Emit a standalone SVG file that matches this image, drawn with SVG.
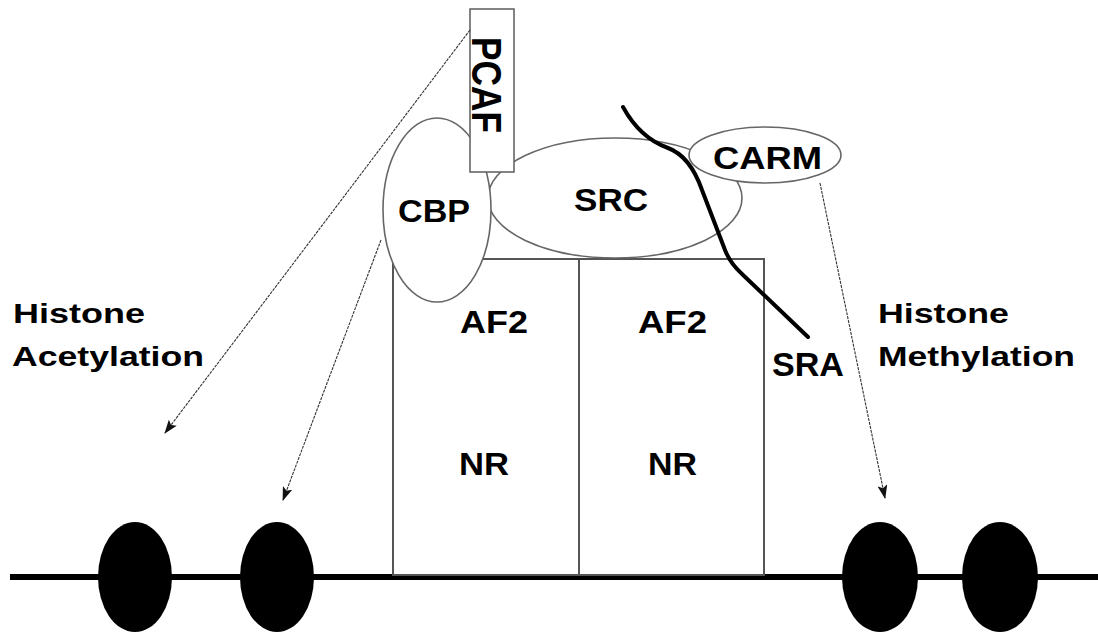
<svg xmlns="http://www.w3.org/2000/svg" width="1098" height="632" viewBox="0 0 1098 632">
<style>
.t{font-family:"Liberation Sans",Arial,sans-serif;font-weight:bold;fill:#000}
.sh{fill:#fff;stroke:#666;stroke-width:1.6}
.box{fill:#fff;stroke:#555;stroke-width:2}
.arr{fill:none;stroke:#333;stroke-width:1.1;stroke-dasharray:3 1}
.nuc{fill:#000}
</style>
<defs>
<marker id="ah" markerWidth="14" markerHeight="10" refX="13" refY="5" orient="auto" markerUnits="userSpaceOnUse">
<path d="M0,0 L14,5 L0,10 L3,5 Z" fill="#111"/>
</marker>
</defs>
<rect width="1098" height="632" fill="#fff"/>
<g id="dna"><line x1="10" y1="577" x2="1098" y2="577" stroke="#000" stroke-width="6"/></g>
<g id="nucleosomes">
<ellipse class="nuc" cx="135" cy="577" rx="37" ry="55"/>
<ellipse class="nuc" cx="277" cy="577" rx="37" ry="55"/>
<ellipse class="nuc" cx="880" cy="577" rx="38" ry="55"/>
<ellipse class="nuc" cx="1000" cy="577" rx="38" ry="55"/>
</g>
<g id="nr1"><rect class="box" x="393" y="259" width="186" height="316"/>
<text class="t" x="460" y="333" font-size="31" textLength="68" lengthAdjust="spacingAndGlyphs">AF2</text>
<text class="t" x="459" y="475" font-size="31" textLength="50" lengthAdjust="spacingAndGlyphs">NR</text></g>
<g id="nr2"><rect class="box" x="579" y="259" width="185" height="316"/>
<text class="t" x="638" y="333" font-size="31" textLength="69" lengthAdjust="spacingAndGlyphs">AF2</text>
<text class="t" x="648" y="475" font-size="31" textLength="49" lengthAdjust="spacingAndGlyphs">NR</text></g>
<g id="src"><ellipse class="sh" cx="615" cy="198" rx="127" ry="60"/>
<text class="t" x="574" y="211" font-size="32" textLength="74" lengthAdjust="spacingAndGlyphs">SRC</text></g>
<g id="cbp"><ellipse class="sh" cx="437" cy="210" rx="54" ry="92"/>
<text class="t" x="398" y="222" font-size="32" textLength="72" lengthAdjust="spacingAndGlyphs">CBP</text></g>
<g id="pcaf"><rect class="sh" x="470" y="9" width="44" height="163"/>
<text class="t" transform="translate(472,37) rotate(90) scale(1,1.3)" x="0" y="0" font-size="32" textLength="96" lengthAdjust="spacingAndGlyphs">PCAF</text></g>
<g id="carm"><ellipse class="sh" cx="765" cy="155" rx="76" ry="28"/>
<text class="t" x="713" y="169" font-size="32" textLength="109" lengthAdjust="spacingAndGlyphs">CARM</text></g>
<g id="sra"><path d="M623,107 Q640,138 668,148 Q690,156 702,190 L725,250 Q730,263 742,274 L808,337" fill="none" stroke="#000" stroke-width="4" stroke-linecap="round"/>
<text class="t" x="772" y="376" font-size="33" textLength="72" lengthAdjust="spacingAndGlyphs">SRA</text></g>
<g id="labels">
<text class="t" x="13" y="323" font-size="27" textLength="132" lengthAdjust="spacingAndGlyphs">Histone</text>
<text class="t" x="12" y="366" font-size="27" textLength="192" lengthAdjust="spacingAndGlyphs">Acetylation</text>
<text class="t" x="878" y="323" font-size="27" textLength="131" lengthAdjust="spacingAndGlyphs">Histone</text>
<text class="t" x="878" y="366" font-size="27" textLength="197" lengthAdjust="spacingAndGlyphs">Methylation</text>
</g>
<g id="connectors">
<line class="arr" x1="470" y1="30" x2="165" y2="433" marker-end="url(#ah)"/>
<line class="arr" x1="381" y1="240" x2="283" y2="500" marker-end="url(#ah)"/>
<line class="arr" x1="820" y1="183" x2="885" y2="498" marker-end="url(#ah)"/>
</g>
</svg>
